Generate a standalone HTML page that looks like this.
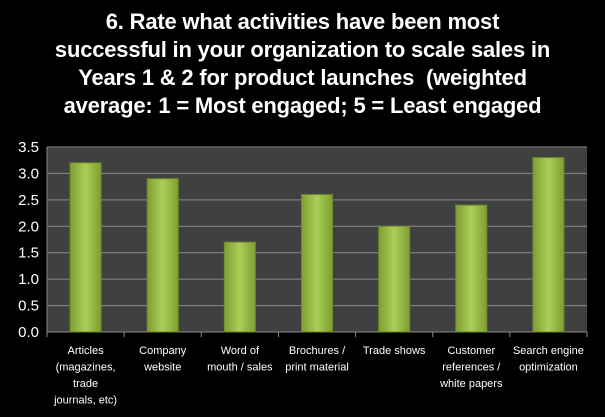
<!DOCTYPE html>
<html><head><meta charset="utf-8"><style>
body{margin:0;background:#000;width:605px;height:417px;overflow:hidden;font-family:"Liberation Sans",sans-serif}
#title{position:absolute;left:0;top:8px;width:605px;text-align:center;color:#fff;font-weight:bold;font-size:22px;line-height:28px;letter-spacing:-0.2px}
</style></head><body>
<div id="title">6. Rate what activities have been most<br>successful in your organization to scale sales in<br>Years 1 &amp; 2 for product launches&nbsp; (weighted<br>average: 1 = Most engaged; 5 = Least engaged</div>
<svg id="chart" width="605" height="417" style="position:absolute;left:0;top:0">
<defs><linearGradient id="g" x1="0" x2="1"><stop offset="0" stop-color="#7e9e32"/><stop offset="0.5" stop-color="#a8cf58"/><stop offset="1" stop-color="#7e9e32"/></linearGradient></defs>
</svg>
<script>
const categories=[["Articles","(magazines,","trade","journals, etc)"],["Company","website"],["Word of","mouth / sales"],["Brochures /","print material"],["Trade shows"],["Customer","references /","white papers"],["Search engine","optimization"]];
const values=[3.2,2.9,1.7,2.6,2.0,2.4,3.3];
const ticks=[0,0.5,1,1.5,2,2.5,3,3.5];
const svg=document.getElementById('chart');const NS='http://www.w3.org/2000/svg';
const L=47,R=587,T=147,B=332,max=3.5;
const y=v=>B-(v/max)*(B-T);const bw=(R-L)/categories.length;const x=i=>L+bw*i;
function mk(t,a){const e=document.createElementNS(NS,t);for(const k in a)e.setAttribute(k,a[k]);svg.appendChild(e);return e;}
let bg=mk('rect',{x:L,y:T,width:R-L,height:B-T,fill:'#404040'});


ticks.forEach(t=>{
 if(t>0){let g=mk('line',{x1:L,x2:R,y1:y(t),y2:y(t),stroke:'#8a8a8a','stroke-width':1});
 
 }
 let tx=mk('text',{x:L-8,y:y(t)+5,fill:'#fff','font-size':15,'text-anchor':'end'});tx.textContent=t.toFixed(1);
 
 
});
let ax=mk('line',{x1:L,x2:R,y1:B,y2:B,stroke:'#8a8a8a'});


let ay=mk('line',{x1:L,x2:L,y1:T,y2:B,stroke:'#8a8a8a'});


categories.forEach((c,i)=>{
 let tk=mk('line',{x1:x(i),x2:x(i),y1:B,y2:B+5,stroke:'#8a8a8a'});
 
 
 const cx=x(i)+bw/2,w=31;
 let b=mk('rect',{x:cx-w/2,y:y(values[i]),width:w,height:B-y(values[i]),fill:'url(#g)',stroke:'#6f8a2a','stroke-width':1});
 
 
 c.forEach((ln,j)=>{let t=mk('text',{x:cx,y:354+j*16.5,fill:'#fff','font-size':11,'text-anchor':'middle'});t.textContent=ln;
 
 });
});
mk('line',{x1:R,x2:R,y1:B,y2:B+5,stroke:'#8a8a8a'});
</script>
</body></html>
